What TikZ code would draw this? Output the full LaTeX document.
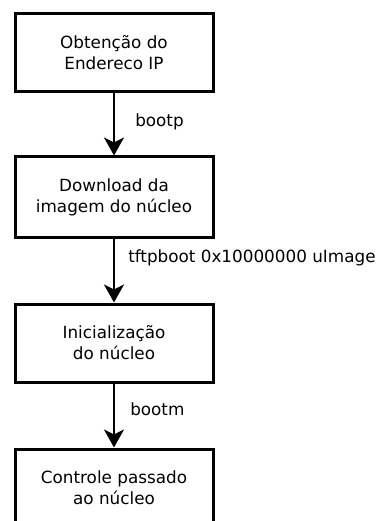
\documentclass[tikz,border=0pt]{standalone}
\usepackage{fontspec}
\setmainfont{DejaVu Sans}
\usetikzlibrary{arrows.meta}
\begin{document}
\begin{tikzpicture}[x=1pt,y=-1pt,
  stepbox/.style={draw=black,line width=3pt,minimum width=198pt,inner sep=0pt,align=center,font=\fontsize{16.8}{21}\selectfont},
  flow/.style={line width=2.5pt,-{Stealth[length=18pt,width=20pt,inset=5pt]}},
  lbl/.style={anchor=west,inner sep=0pt,font=\fontsize{16.8}{21}\selectfont}]
\useasboundingbox (0,0) rectangle (377,521);
\node[stepbox,minimum height=78pt] (b1) at (114,53) {Obtenção do\\Endereco IP};
\node[stepbox,minimum height=80pt] (b2) at (114,197) {Download da\\imagem do núcleo};
\node[stepbox,minimum height=78pt] (b3) at (114,343) {Inicialização\\do núcleo};
\node[stepbox,minimum height=78pt] (b4) at (114,488) {Controle passado\\ao núcleo};
\draw[flow] (b1) -- (b2) node[lbl,pos=0.45,right=20pt] (l1) {bootp};
\draw[flow] (b2) -- (b3) node[lbl,pos=0.3,right=13pt] (l2) {tftpboot 0x10000000 uImage};
\draw[flow] (b3) -- (b4) node[lbl,pos=0.4,right=15pt] (l3) {bootm};
\end{tikzpicture}
\end{document}
